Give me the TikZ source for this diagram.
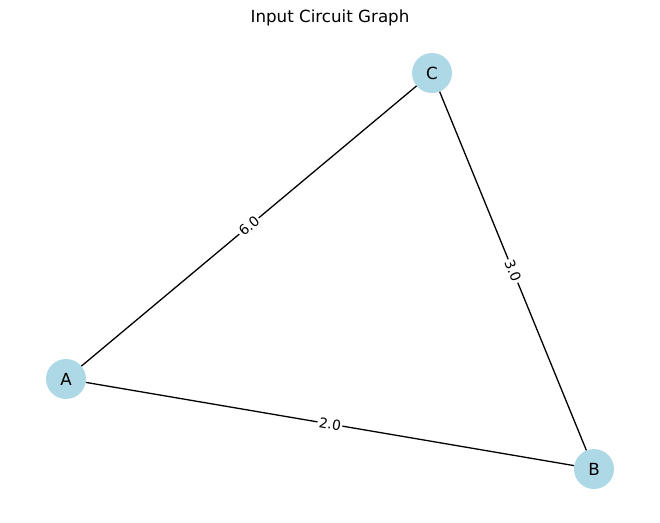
\documentclass[tikz,border=0pt]{standalone}
\usepackage{fontspec}
\setmainfont{DejaVu Sans}
\usetikzlibrary{positioning}
\definecolor{nodeblue}{RGB}{173,216,230}

\begin{document}
\begin{tikzpicture}[x=1pt, y=-1pt, c/.style={circle, fill=nodeblue, minimum size=40pt, inner sep=0pt, font=\fontsize{16.7}{20}\selectfont}, w/.style={fill=white, inner sep=1.5pt, sloped, font=\fontsize{13.9}{16}\selectfont}, s/.style={line width=1.3pt}]
		\useasboundingbox (0,0) rectangle (660,522);
		\node[font=\fontsize{16.7}{20}\selectfont] (title) at (330,18) {Input Circuit Graph};
		\node[c] (A) at (66,379) {A};
		\node[c] (B) at (594,469) {B};
		\node[c] (C) at (432,73) {C};


		\path[s] (A) edge node[w] {6.0} (C);
		\path[s] (C) edge node[w] {3.0} (B);
		\path[s] (A) edge node[w] {2.0} (B);
	\end{tikzpicture}
\end{document}
